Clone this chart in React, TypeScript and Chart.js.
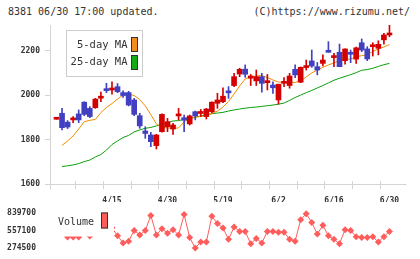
import React, { useEffect, useRef } from 'react';
import { Chart, registerables } from 'chart.js';

Chart.register(...registerables);

// ---- data ----
const dates = ['4/1','4/2','4/3','4/4','4/7','4/8','4/9','4/10','4/11','4/14','4/15','4/16','4/17','4/18','4/21','4/22','4/23','4/24','4/25','4/28','4/30','5/1','5/2','5/7','5/8','5/9','5/12','5/13','5/14','5/16','5/19','5/20','5/21','5/22','5/23','5/26','5/27','5/28','5/29','5/30','6/2','6/3','6/4','6/5','6/6','6/9','6/10','6/11','6/12','6/13','6/16','6/17','6/18','6/19','6/20','6/23','6/24','6/25','6/26','6/27','6/30'];

const opens = [1892,1919,1879,1889,1916,1969,1941,1944,1987,2029,
  2024,2039,2012,2012,1979,1908,1839,1821,1773,1836,
  1858,1848,1907,1899,1871,1926,1918,1904,1926,1964,
  1971,2019,2044,2096,2118,2077,2065,2084,2057,2046,
  1979,2054,2044,2117,2059,2125,2155,2129,2144,2200,
  2170,2194,2156,2194,2163,2237,2209,2219,2212,2250,2272];
const closes = [1894,1854,1857,1894,1889,1914,1904,1983,1992,2021,
  2028,2016,1999,1956,1914,1862,1828,1791,1821,1914,
  1881,1866,1914,1888,1907,1907,1924,1938,1969,1979,
  1996,2011,2084,2117,2095,2087,2084,2054,2065,2034,
  2050,2061,2087,2092,2126,2132,2132,2114,2159,2194,
  2177,2129,2209,2185,2214,2204,2164,2222,2230,2272,2280];
const highs = [1894,1941,1886,1904,1934,1971,1949,1986,2015,2054,
  2061,2053,2020,2018,1986,1919,1858,1833,1824,1916,
  1896,1874,1941,1911,1911,1929,1936,1941,1971,2009,
  2034,2039,2099,2122,2137,2094,2114,2099,2094,2061,
  2050,2080,2099,2137,2128,2159,2204,2148,2182,2242,
  2189,2231,2209,2204,2217,2254,2219,2237,2246,2280,2317];
const lows = [1892,1844,1850,1877,1877,1908,1899,1941,1971,2012,
  2005,2012,1990,1952,1908,1851,1806,1768,1758,1834,
  1836,1824,1889,1836,1866,1889,1904,1893,1920,1941,
  1967,1986,2039,2084,2081,2044,2044,2014,2024,2009,
  1960,2039,2032,2080,2057,2114,2126,2092,2132,2194,
  2129,2129,2140,2147,2144,2197,2156,2177,2182,2231,2264];

const ma5 = [null,1774,1794,1817,1848,1881,1887,1891,1922,1945,
  1963,1983,2001,2005,1999,1981,1952,1913,1871,1855,
  1853,1850,1853,1880,1898,1902,1904,1909,1918,1929,
  1947,1972,2006,2042,2074,2083,2087,2089,2080,2069,
  2060,2058,2058,2058,2065,2083,2101,2114,2126,2137,
  2146,2157,2162,2164,2173,2179,2182,2198,2209,2218,2229];
const ma25 = [null,1679,1682,1686,1692,1701,1708,1722,1733,1753,
  1778,1794,1810,1819,1835,1844,1851,1855,1862,1869,
  1877,1884,1886,1891,1895,1901,1907,1911,1917,1920,
  1923,1929,1934,1938,1942,1945,1947,1950,1953,1956,
  1960,1965,1977,1990,2001,2012,2022,2033,2044,2056,
  2068,2077,2085,2093,2102,2113,2116,2122,2130,2138,2144];

const volumes = [620000,580000,455000,455000,455000,640000,469000,600000,560000,700000,
  600000,472000,359000,387000,557000,486000,557000,797000,486000,585000,
  515000,571000,486000,811000,444000,277000,373000,373000,783000,670000,
  599000,416000,613000,543000,543000,345000,430000,359000,543000,543000,
  529000,529000,416000,387000,727000,825000,684000,500000,642000,472000,
  416000,345000,571000,557000,458000,444000,444000,458000,373000,458000,543000];

const priceTicks = [1600, 1800, 2000, 2200];
const volumeTicks = [274500, 557100, 839700];
const labelEvery = 10;

// ---- styles ----
const RED = '#d40000';
const BLUE = '#4040c0';
const ORANGE = '#f08c00';
const GREEN = '#0aa00a';
const VOL = '#ff5c5c';
const AXIS = '#d4d4d4';
const TEXT = '#333333';
const MONO = "'DejaVu Sans Mono', 'Liberation Mono', monospace";

const MAIN_H = 202;
const VOL_TOP = 202;
const VOL_H = 57;

const candleColor = dates.map((_, i) => (closes[i] >= opens[i] ? RED : BLUE));

const mainAxesPlugin = {
  id: 'mainAxes',
  beforeDatasetsDraw(chart: any) {
    const { ctx, chartArea } = chart;
    const xg = chart.scales.xg;
    const b = Math.round(chartArea.bottom) + 0.5;
    ctx.save();
    ctx.strokeStyle = AXIS;
    ctx.lineWidth = 1;
    ctx.beginPath();
    ctx.moveTo(chartArea.left - 5, b);
    ctx.lineTo(Math.round(chartArea.right) + 1.5, b);
    for (let k = 0; k <= 11; k++) {
      const px = Math.round(xg.getPixelForValue(k)) + 0.5;
      ctx.moveTo(px, b - 3.5);
      ctx.lineTo(px, b + 4.5);
    }
    const lx = Math.round(chartArea.left) + 0.5;
    ctx.moveTo(lx, chartArea.bottom);
    ctx.lineTo(lx, b + 5);
    ctx.stroke();
    ctx.restore();
  },
  afterDraw(chart: any) {
    const { ctx } = chart;
    ctx.save();
    ctx.fillStyle = '#ffffff';
    ctx.fillRect(66, 30, 77, 47);
    ctx.strokeStyle = '#cccccc';
    ctx.lineWidth = 1;
    ctx.strokeRect(66.5, 30.5, 76, 46);
    ctx.font = `10.5px ${MONO}`;
    ctx.fillStyle = TEXT;
    ctx.textAlign = 'right';
    ctx.textBaseline = 'middle';
    ctx.fillText('5-day MA', 127.5, 45.5);
    ctx.fillText('25-day MA', 127.5, 62.5);
    ctx.fillStyle = '#f28c1c';
    ctx.fillRect(131, 37, 7, 15);
    ctx.fillStyle = '#14ac14';
    ctx.fillRect(131, 55, 7, 15);
    ctx.strokeStyle = '#333333';
    ctx.strokeRect(131.5, 37.5, 6, 14);
    ctx.strokeRect(131.5, 55.5, 6, 14);
    ctx.restore();
  },
};

const volLegendPlugin = {
  id: 'volLegend',
  afterDatasetsDraw(chart: any) {
    const { ctx } = chart;
    ctx.save();
    ctx.fillStyle = '#ffffff';
    ctx.fillRect(51, 1, 63, 33.5);
    ctx.font = `10px ${MONO}`;
    ctx.fillStyle = TEXT;
    ctx.textAlign = 'left';
    ctx.textBaseline = 'middle';
    ctx.fillText('Volume', 58, 20);
    ctx.fillStyle = VOL;
    ctx.fillRect(101, 10.5, 7, 16);
    ctx.strokeStyle = '#333333';
    ctx.lineWidth = 1;
    ctx.strokeRect(101.5, 11, 6, 15);
    ctx.restore();
  },
};

const xMin = -1.17;
const xMax = 62.8;
const tickFont = { family: MONO, size: 8, weight: 'bold' as const };

export default function App() {
  const mainRef = useRef<HTMLCanvasElement | null>(null);
  const volRef = useRef<HTMLCanvasElement | null>(null);

  useEffect(() => {
    const labelIdx = dates.map((_, i) => i).filter((i) => i > 0 && i % labelEvery === 0);

    const main = new Chart(mainRef.current as HTMLCanvasElement, {
      type: 'bar',
      data: {
        datasets: [
          {
            type: 'line',
            data: ma25.map((v, i) => ({ x: i, y: v })) as any,
            borderColor: GREEN,
            borderWidth: 1,
            pointRadius: 0,
            tension: 0,
            order: 4,
          },
          {
            type: 'line',
            data: ma5.map((v, i) => ({ x: i, y: v })) as any,
            borderColor: ORANGE,
            borderWidth: 1,
            pointRadius: 0,
            tension: 0,
            order: 3,
          },
          {
            type: 'bar',
            data: dates.map((_, i) => ({ x: i, y: [lows[i], highs[i]] })) as any,
            backgroundColor: candleColor,
            barThickness: 1,
            maxBarThickness: 1,
            grouped: false,
            order: 2,
          } as any,
          {
            type: 'bar',
            data: dates.map((_, i) => ({ x: i, y: [opens[i], closes[i]] })) as any,
            backgroundColor: candleColor,
            barThickness: 5,
            maxBarThickness: 5,
            minBarLength: 2,
            grouped: false,
            order: 1,
          } as any,
        ],
      },
      options: {
        animation: false,
        responsive: false,
        maintainAspectRatio: false,
        layout: { padding: { top: 25, right: 15, left: 0, bottom: 0 } },
        plugins: { legend: { display: false }, tooltip: { enabled: false } },
        scales: {
          x: {
            type: 'linear',
            min: xMin,
            max: xMax,
            offset: false,
            grid: { display: false },
            border: { display: false },
            afterBuildTicks: (s: any) => {
              s.ticks = labelIdx.map((v) => ({ value: v }));
            },
            afterFit: (s: any) => {
              s.height = MAIN_H - 184;
            },
            ticks: {
              autoSkip: false,
              maxRotation: 0,
              padding: 4,
              color: TEXT,
              font: tickFont,
              callback: (v: any) => dates[Number(v)],
            },
          },
          xg: {
            type: 'linear',
            display: false,
            min: 0,
            max: 11,
            position: 'bottom',
          },
          y: {
            type: 'linear',
            min: 1600,
            max: 2317,
            afterBuildTicks: (s: any) => {
              s.ticks = priceTicks.map((v) => ({ value: v }));
            },
            afterFit: (s: any) => {
              s.width = 50;
            },
            grid: { drawOnChartArea: false, drawTicks: true, tickLength: 5, color: AXIS },
            border: { display: true, color: AXIS },
            ticks: { padding: 5, color: TEXT, font: tickFont, callback: (v: any) => String(v) },
          },
        } as any,
      },
      plugins: [mainAxesPlugin],
    } as any);

    const vol = new Chart(volRef.current as HTMLCanvasElement, {
      type: 'line',
      data: {
        datasets: [
          {
            data: volumes.map((v, i) => ({ x: i, y: v })) as any,
            borderColor: VOL,
            borderWidth: 1,
            pointStyle: 'rectRot',
            pointRadius: 3.5,
            pointBackgroundColor: VOL,
            pointBorderColor: VOL,
            pointBorderWidth: 0,
            tension: 0,
            clip: false,
          } as any,
        ],
      },
      options: {
        animation: false,
        responsive: false,
        maintainAspectRatio: false,
        layout: { padding: { top: 7.3, right: 15, left: 0, bottom: 9.7 } },
        plugins: { legend: { display: false }, tooltip: { enabled: false } },
        scales: {
          x: { type: 'linear', display: false, min: xMin, max: xMax, offset: false },
          y: {
            type: 'linear',
            min: volumeTicks[0],
            max: volumeTicks[volumeTicks.length - 1],
            afterBuildTicks: (s: any) => {
              s.ticks = volumeTicks.map((v) => ({ value: v }));
            },
            afterFit: (s: any) => {
              s.width = 50;
            },
            grid: { display: false },
            border: { display: false },
            ticks: { padding: 6, color: TEXT, font: tickFont, callback: (v: any) => String(v) },
          },
        } as any,
      },
      plugins: [volLegendPlugin],
    } as any);

    return () => {
      main.destroy();
      vol.destroy();
    };
  }, []);

  const headStyle: React.CSSProperties = {
    position: 'absolute',
    top: 7,
    fontFamily: MONO,
    fontSize: '10px',
    lineHeight: '10px',
    color: TEXT,
    whiteSpace: 'pre',
  };

  return (
    <div style={{ position: 'fixed', left: 0, top: 0, width: 420, height: 259, background: '#ffffff', overflow: 'hidden' }}>
      <div style={{ ...headStyle, left: 8 }}>8381 06/30 17:00 updated.</div>
      <div style={{ ...headStyle, right: 10 }}>(C)https://www.rizumu.net/</div>
      <canvas ref={mainRef} width={420} height={MAIN_H} style={{ position: 'absolute', left: 0, top: 0, width: 420, height: MAIN_H }} />
      <canvas ref={volRef} width={420} height={VOL_H} style={{ position: 'absolute', left: 0, top: VOL_TOP, width: 420, height: VOL_H }} />
    </div>
  );
}
